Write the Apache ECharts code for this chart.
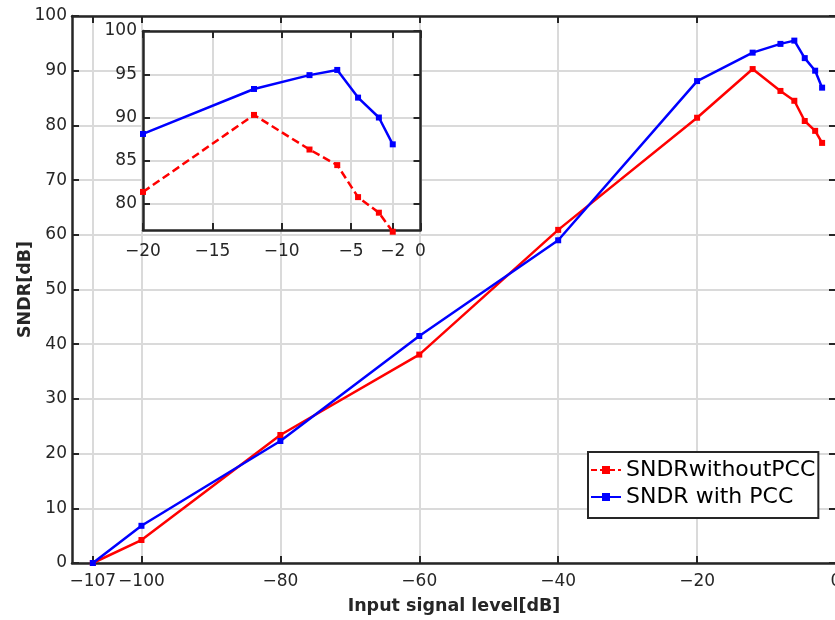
<!DOCTYPE html>
<html><head><meta charset="utf-8">
<script src="https://cdn.jsdelivr.net/npm/echarts@6/dist/echarts.min.js"></script>
<style>html,body{margin:0;padding:0;background:#fff}#c{width:835px;height:620px}</style>
</head><body><div id="c"></div>
<script>
// ---- data ----
const inputLevel = [-107, -100, -80, -60, -40, -20, -12, -8, -6, -4.5, -3, -2];
const sndrWithoutPCC = [0, 4.2, 23.4, 38.1, 60.9, 81.4, 90.3, 86.3, 84.5, 80.8, 79.0, 76.8];
const sndrWithPCC = [0, 6.8, 22.3, 41.5, 59.0, 88.1, 93.3, 94.9, 95.5, 92.3, 90.0, 86.9];
const mainXTicks = [-107, -100, -80, -60, -40, -20, 0];
const insetXTicks = [-20, -15, -10, -5, -2, 0];
const insetYTicks = [80, 85, 90, 95, 100];
const seriesNames = ['SNDRwithoutPCC', 'SNDR with PCC'];
const insetFrom = -20;

// ---- style ----
const FONT = 'DejaVu Sans';
const AX = '#262626';
const GRIDC = '#dadada';
const RED = '#ff0000';
const BLUE = '#0000ff';
const fmt = v => String(v).replace('-', '\u2212');

function pairs(xs, ys, from) {
  const out = [];
  xs.forEach((x, i) => { if (from === undefined || x >= from) out.push([x, ys[i]]); });
  return out;
}

function axisBase(gridIndex, position, min, max, opts) {
  const o = {
    type: 'value', gridIndex, position, min, max,
    z: opts.z || 0,
    axisLine: { show: true, onZero: false, lineStyle: { color: AX, width: 2.5 } },
    axisTick: { show: true, inside: true, length: 7, lineStyle: { color: AX, width: 2 } },
    axisLabel: { show: !!opts.label, fontSize: 17, color: AX, fontFamily: FONT, formatter: fmt, margin: opts.margin || 6 },
    splitLine: { show: !!opts.split, lineStyle: { color: GRIDC, width: 2 } }
  };
  if (opts.interval) o.interval = opts.interval;
  if (opts.ticks) {
    o.axisTick.customValues = opts.ticks;
    o.axisLabel.customValues = opts.ticks;
  }
  return o;
}

const xMainBottom = axisBase(0, 'bottom', -110, 0, { label: true, split: true, ticks: mainXTicks, margin: 10 });
xMainBottom.name = 'Input signal level[dB]';
xMainBottom.nameLocation = 'middle';
xMainBottom.nameGap = 34;
xMainBottom.nameMoveOverlap = false;
xMainBottom.nameTextStyle = { fontWeight: 'bold', fontSize: 17.5, color: AX, fontFamily: FONT };
const xMainTop = axisBase(0, 'top', -110, 0, { ticks: mainXTicks });

const yMainLeft = axisBase(0, 'left', 0, 100, { label: true, split: true, interval: 10, margin: 5 });
yMainLeft.name = 'SNDR[dB]';
yMainLeft.nameLocation = 'middle';
yMainLeft.nameGap = 38;
yMainLeft.nameMoveOverlap = false;
yMainLeft.nameTextStyle = { fontWeight: 'bold', fontSize: 17.5, color: AX, fontFamily: FONT };
const yMainRight = axisBase(0, 'right', 0, 100, { interval: 10 });

const xInsetBottom = axisBase(1, 'bottom', -20, 0, { label: true, split: true, ticks: insetXTicks, margin: 13, z: 3 });
const xInsetTop = axisBase(1, 'top', -20, 0, { ticks: insetXTicks, z: 3 });
const yInsetLeft = axisBase(1, 'left', 77, 100, { label: true, split: true, ticks: insetYTicks, margin: 6, z: 3 });
const yInsetRight = axisBase(1, 'right', 77, 100, { ticks: insetYTicks, z: 3 });

function lineSeries(name, xi, yi, data, color, dashed, z) {
  return {
    name, type: 'line', xAxisIndex: xi, yAxisIndex: yi, data,
    z, clip: false,
    symbol: 'rect', symbolSize: 6,
    itemStyle: { color },
    lineStyle: { color, width: 2.5, type: dashed ? [8, 4] : 'solid' },
    emphasis: { disabled: true },
    animation: false
  };
}

const option = {
  backgroundColor: '#fff',
  animation: false,
  textStyle: { fontFamily: FONT },
  grid: [
    { left: 72, right: -1, top: 16, bottom: 57, show: false, z: 0, containLabel: false, outerBoundsMode: 'none' },
    { left: 143, right: 414.5, top: 31, bottom: 390, show: true, backgroundColor: '#fff', borderWidth: 0, z: 2, containLabel: false, outerBoundsMode: 'none' }
  ],
  xAxis: [xMainBottom, xMainTop, xInsetBottom, xInsetTop],
  yAxis: [yMainLeft, yMainRight, yInsetLeft, yInsetRight],
  legend: {
    orient: 'vertical', left: 588, top: 452,
    data: [
      { name: seriesNames[0], lineStyle: { type: [6, 3] } },
      { name: seriesNames[1] }
    ],
    itemWidth: 30, itemHeight: 10, itemGap: 5,
    padding: [7, 3, 10, 2],
    borderColor: AX, borderWidth: 2, backgroundColor: '#fff',
    textStyle: { fontSize: 22, color: '#000', fontFamily: FONT },
    z: 10
  },
  series: [
    lineSeries(seriesNames[0], 0, 0, pairs(inputLevel, sndrWithoutPCC), RED, false, 3),
    lineSeries(seriesNames[1], 0, 0, pairs(inputLevel, sndrWithPCC), BLUE, false, 4),
    lineSeries(seriesNames[0], 2, 2, pairs(inputLevel, sndrWithoutPCC, insetFrom), RED, true, 5),
    lineSeries(seriesNames[1], 2, 2, pairs(inputLevel, sndrWithPCC, insetFrom), BLUE, false, 6)
  ]
};

const chart = echarts.init(document.getElementById('c'), null, { renderer: 'canvas' });
chart.setOption(option);
</script>
</body></html>
